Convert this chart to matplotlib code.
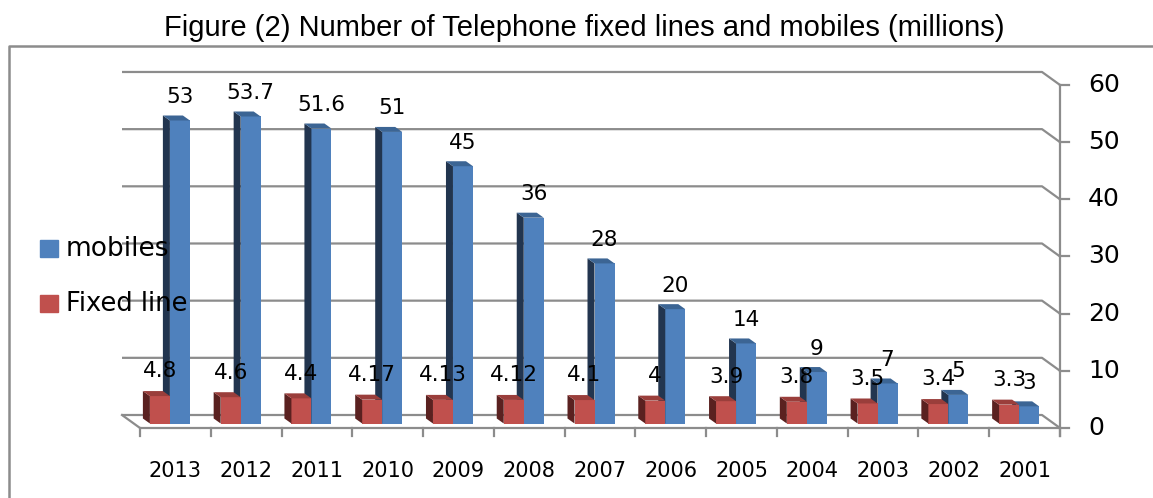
import numpy as np
from matplotlib import pyplot as plt
from matplotlib.patches import Polygon, Rectangle
from matplotlib.lines import Line2D

years = ['2013', '2012', '2011', '2010', '2009', '2008', '2007',
         '2006', '2005', '2004', '2003', '2002', '2001']
mobiles = [53, 53.7, 51.6, 51, 45, 36, 28, 20, 14, 9, 7, 5, 3]
fixed = [4.8, 4.6, 4.4, 4.17, 4.13, 4.12, 4.1, 4, 3.9, 3.8, 3.5, 3.4, 3.3]
mobiles_lbl = ['53', '53.7', '51.6', '51', '45', '36', '28', '20', '14', '9', '7', '5', '3']
fixed_lbl = ['4.8', '4.6', '4.4', '4.17', '4.13', '4.12', '4.1', '4', '3.9', '3.8', '3.5', '3.4', '3.3']
yticks = [0, 10, 20, 30, 40, 50, 60]

blue = '#4F81BD'
blue_side = '#22354F'
blue_top = '#3C6594'
red = '#C0504D'
red_side = '#5A2120'
red_top = '#9A3E3B'
grid = '#8C8C8C'

# pixel scale of the fake 3d box
PX = 70.77   # px per category
PY = 5.717   # px per unit
back_dx, back_dy = -18/PX, 13/PY
bar_dx, bar_dy = -5.5/PX, 4.5/PY
dep_dx, dep_dy = -7/PX, 5/PY
w = 20/PX

fig = plt.figure(figsize=(11.53, 4.98), dpi=100)
ax = fig.add_axes([0, 0, 1, 1])
ax.set_xlim(-0.5 - 140/PX, -0.5 + (1153-140)/PX)
ax.set_ylim(-(498-428)/PY, 428/PY)
ax.axis('off')

n = len(years)
x = np.arange(n)
left, right = -0.5, n - 0.5

# back wall gridlines + diagonal to the front axis
for v in yticks:
    ax.plot([left + back_dx, right + back_dx, right], [v + back_dy, v + back_dy, v],
            color=grid, lw=1.6, zorder=1, solid_capstyle='butt')
# floor
ax.plot([left + back_dx, left, right], [back_dy, 0, 0], color=grid, lw=1.6, zorder=1)
# front axis
ax.plot([right, right], [-1.4, 60], color=grid, lw=1.6, zorder=1)
for v in yticks:
    ax.plot([right, right + 9/PX], [v, v], color=grid, lw=1.6, zorder=1)
    ax.text(right + 28/PX, v, str(v), fontsize=18, ha='left', va='center')
for k in range(n + 1):
    ax.plot([k - 0.5, k - 0.5], [0, -1.4], color=grid, lw=1.6, zorder=1)


def box(x0, h, front, side, top, z):
    x0 = x0 + bar_dx
    y0 = bar_dy
    ax.bar(x0, h, width=w, bottom=y0, align='edge', color=front, zorder=z, lw=0)
    ax.add_patch(Polygon([(x0, y0), (x0, y0 + h), (x0 + dep_dx, y0 + h + dep_dy),
                          (x0 + dep_dx, y0 + dep_dy)], closed=True, color=side, lw=0, zorder=z))
    ax.add_patch(Polygon([(x0, y0 + h), (x0 + w, y0 + h), (x0 + w + dep_dx, y0 + h + dep_dy),
                          (x0 + dep_dx, y0 + h + dep_dy)], closed=True, color=top, lw=0, zorder=z))


for i in range(n):
    box(x[i], mobiles[i], blue, blue_side, blue_top, 3)
    box(x[i] - w, fixed[i], red, red_side, red_top, 4)
    ax.text(x[i] + bar_dx + w/2, mobiles[i] + bar_dy + 4.1, mobiles_lbl[i],
            fontsize=15.5, ha='center', va='center', zorder=6)
    ax.text(x[i] + bar_dx - w/2, fixed[i] + bar_dy + 4.3, fixed_lbl[i],
            fontsize=15.5, ha='center', va='center', zorder=6)
    ax.text(x[i], -7.5, years[i], fontsize=15, ha='center', va='center')

# legend
fig.patches.append(Rectangle((40/1153, 1 - 257/498), 18/1153, 17/498,
                             transform=fig.transFigure, color=blue, figure=fig))
fig.patches.append(Rectangle((40/1153, 1 - 312/498), 18/1153, 17/498,
                             transform=fig.transFigure, color=red, figure=fig))
fig.text(66/1153, 1 - 249/498, 'mobiles', fontsize=19, va='center', zorder=7)
fig.text(66/1153, 1 - 304/498, 'Fixed line', fontsize=18.5, va='center', zorder=7)

# outer frame
fig.add_artist(Line2D([9/1153, 9/1153, 1], [0, 1 - 46/498, 1 - 46/498],
                      transform=fig.transFigure, color='#8C8C8C', lw=1.8))

fig.text(584/1153, 1 - 28/498, 'Figure (2) Number of Telephone fixed lines and mobiles (millions)',
         fontsize=21, family='Liberation Sans', ha='center', va='center')

fig.savefig('out.png', dpi=100)
